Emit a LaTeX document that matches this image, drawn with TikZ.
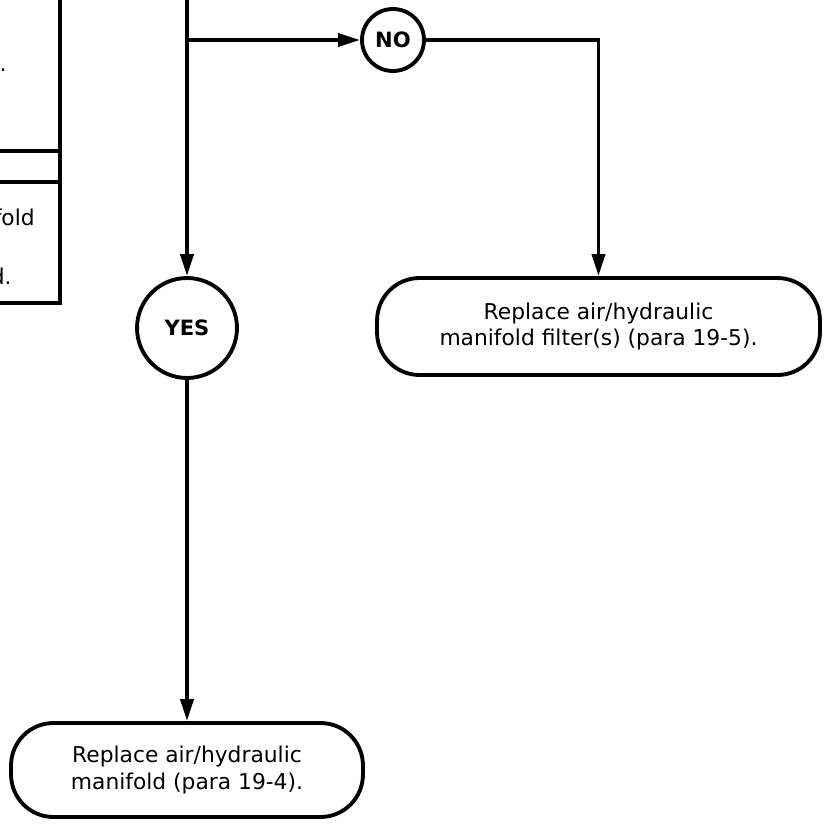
\documentclass[tikz,border=0pt]{standalone}
\usepackage{fontspec}
\setmainfont{DejaVu Sans}
\usetikzlibrary{arrows.meta,positioning}

\begin{document}
\begin{tikzpicture}[x=0.02cm, y=-0.02cm,
    answer/.style={draw, circle, line width=2.2pt, inner sep=0pt, font=\fontsize{12}{14}\selectfont\bfseries},
    action/.style={draw, rectangle, rounded corners=0.85cm, line width=2.2pt, align=center, font=\fontsize{12.4}{15.3}\selectfont},
    arrow/.style={-{Triangle[length=0.44cm,width=0.26cm]}, line width=2.2pt},
    line/.style={line width=2.2pt},
    frag/.style={inner sep=0pt, anchor=base east, font=\fontsize{12.4}{15.3}\selectfont}
]
\useasboundingbox (0,0) rectangle (825,825);

% Left box (cut off by the frame)
\draw[line] (0,151) -- (60,151);
\draw[line] (0,182) -- (60,182);
\draw[line] (60,-5) -- (60,303) -- (-5,303);
\node[frag] (dot) at (7,71) {.};
\node[frag] (fold) at (35,225) {fold};
\node[frag] (dend) at (12,284) {d.};

% Nodes
\node[answer, minimum size=1.24cm] (no) at (393,40) {NO};
\node[answer, minimum size=2cm] (yes) at (187,328) {YES};
\node[action, minimum width=8.86cm, minimum height=1.94cm] (filter) at (598.5,326.5) {Replace air/hydraulic\\manifold filter(s) (para 19-5).};
\node[action, minimum width=7.04cm, minimum height=1.88cm] (manifold) at (187,770) {Replace air/hydraulic\\manifold (para 19-4).};

% Arrows
\coordinate (top) at (187,-5);
\coordinate (split) at (187,40);
\draw[arrow] (top) -- (yes);
\draw[arrow] (split) -- (no);
\draw[arrow] (no) -| (filter);
\draw[arrow] (yes) -- (manifold);

\end{tikzpicture}
\end{document}
